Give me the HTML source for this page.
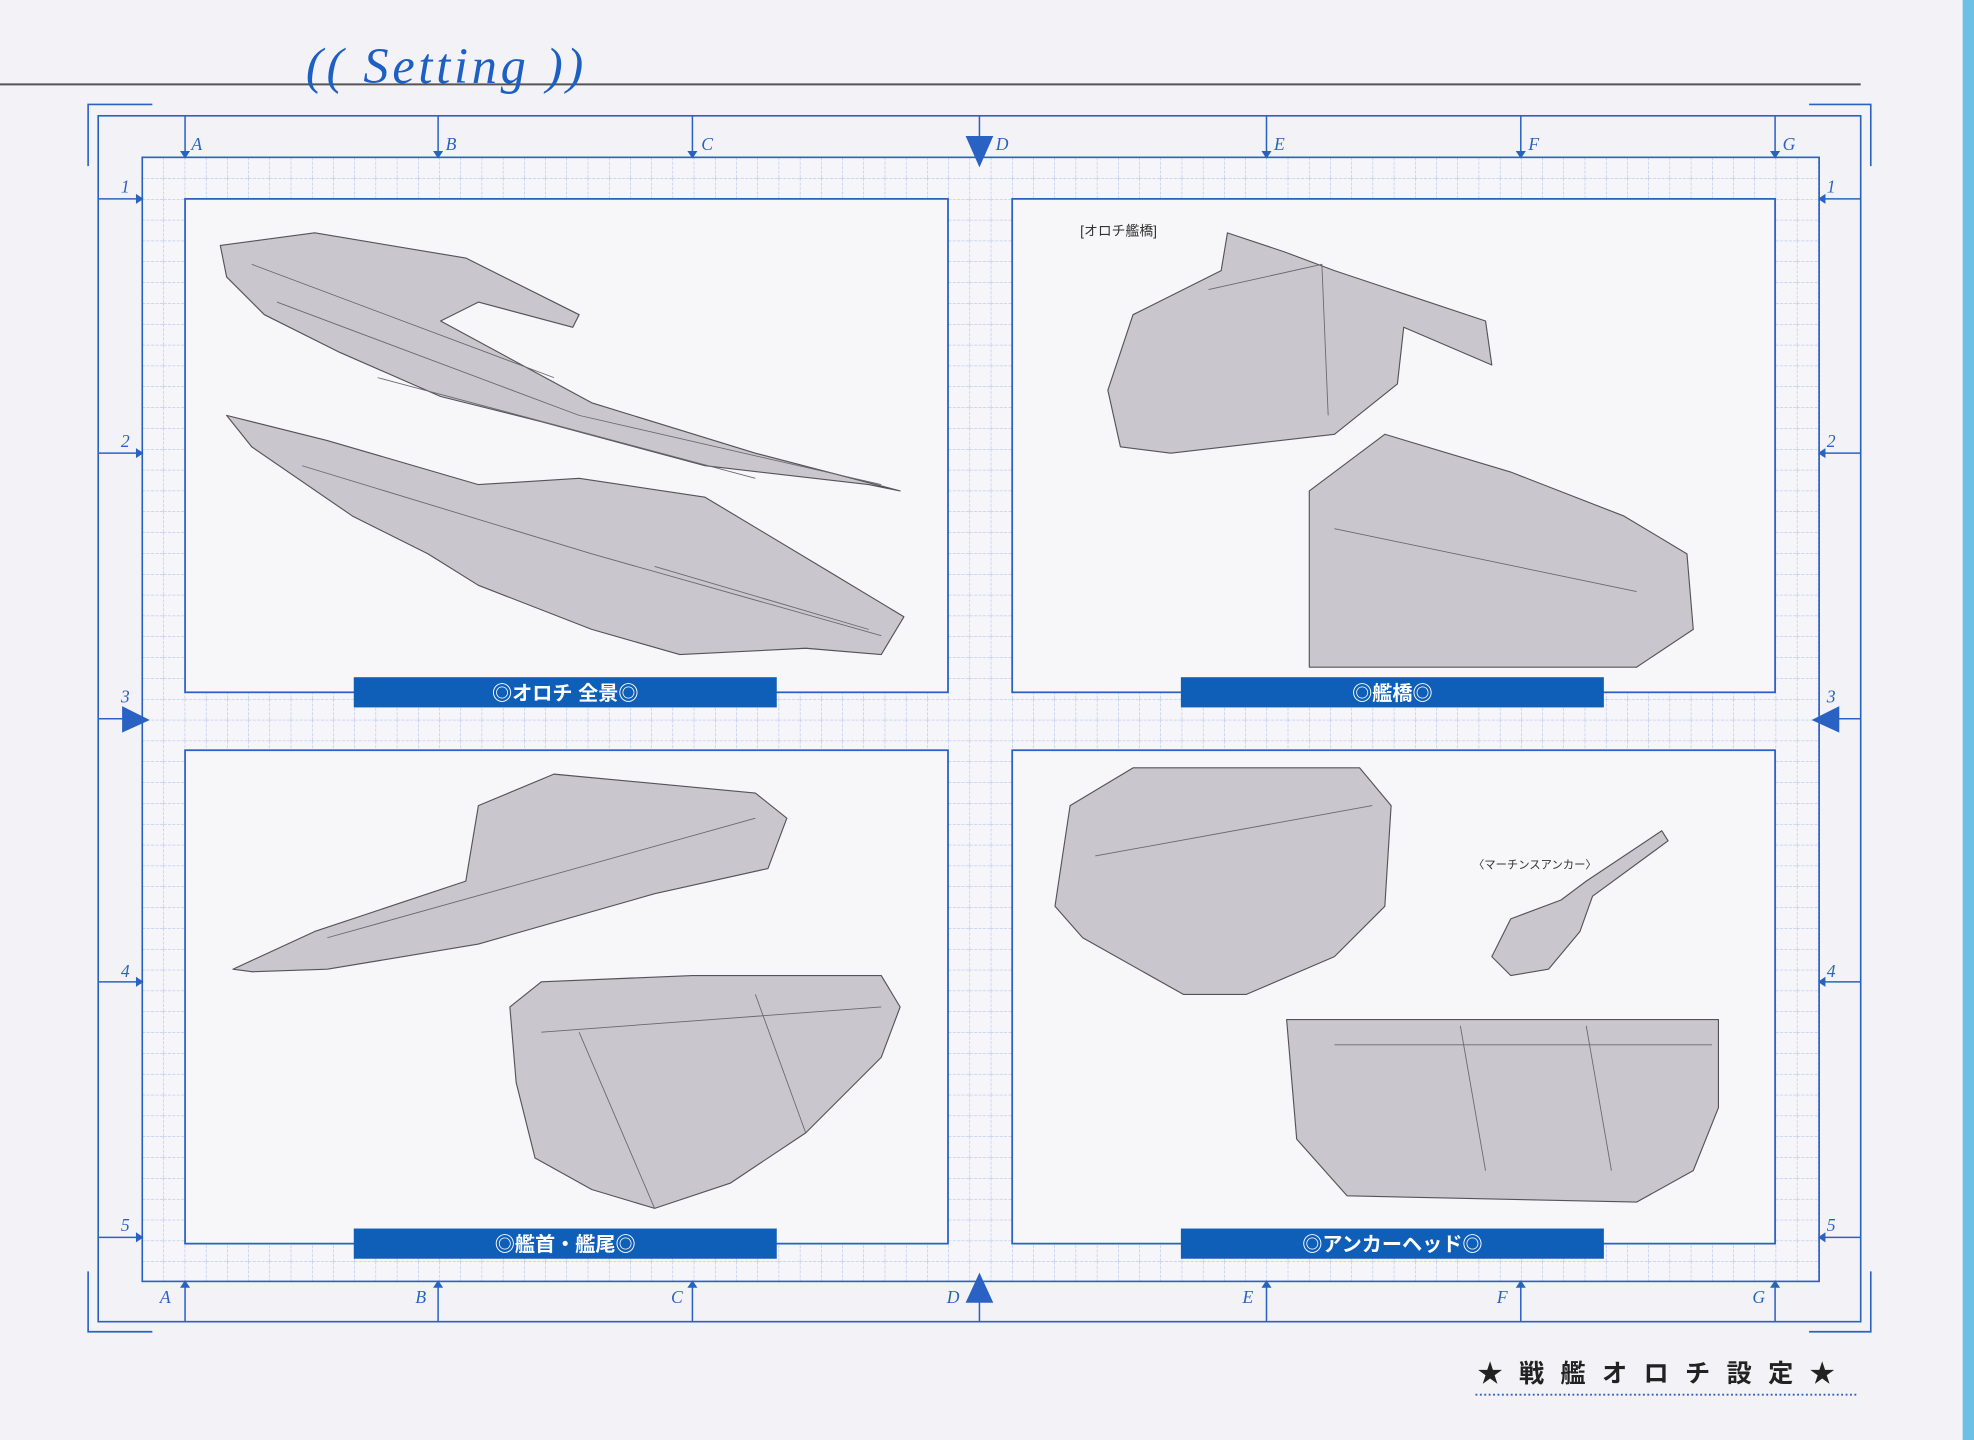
<!DOCTYPE html>
<html><head><meta charset="utf-8"><style>
html,body{margin:0;padding:0;background:#f3f3f7;}
svg{display:block}
</style></head><body>
<svg width="1974" height="1440" viewBox="0 0 1568 1144" preserveAspectRatio="none" xmlns="http://www.w3.org/2000/svg">
<defs>
<pattern id="g" x="113" y="125" width="16.85" height="16.55" patternUnits="userSpaceOnUse">
<path d="M0 0V16.55M0 0H16.85" stroke="#a7b5e6" stroke-width="0.8" stroke-dasharray="2.5 1" fill="none"/>
</pattern>
</defs>
<rect width="1568" height="1144" fill="#f3f3f7"/>
<rect x="1559" y="0" width="9" height="1144" fill="#6cc0e6"/>
<line x1="0" y1="67" x2="1478" y2="67" stroke="#555" stroke-width="1.6"/>
<text x="243" y="66" font-family="Liberation Serif, serif" font-style="italic" font-size="40" fill="#1e5fc4" letter-spacing="3">(( Setting ))</text>
<rect x="113" y="125" width="1332" height="893" fill="#f6f6fa"/>
<rect x="113" y="125" width="1332" height="893" fill="url(#g)"/>
<g fill="none" stroke="#2a62c4" stroke-width="1.3">
<rect x="113" y="125" width="1332" height="893"/>
<rect x="78" y="92" width="1400" height="958"/>
<path d="M70 132V83H121 M1437 83H1486V132 M70 1010V1058H121 M1437 1058H1486V1010"/>
</g>
<g stroke="#2a62c4" stroke-width="1.2" fill="#2a62c4">
<path d="M147 92V125 M348 92V125 M550 92V125 M778 92V125 M1006 92V125 M1208 92V125 M1410 92V125"/>
<path d="M147 1018V1050 M348 1018V1050 M550 1018V1050 M778 1018V1050 M1006 1018V1050 M1208 1018V1050 M1410 1018V1050"/>
<path d="M78 158H113 M78 360H113 M78 780H113 M78 983H113 M78 571H113 M1445 158H1478 M1445 360H1478 M1445 780H1478 M1445 983H1478 M1445 571H1478"/>
</g>
<g fill="#2a62c4">
<path d="M143 120h8l-4 6z M344 120h8l-4 6z M546 120h8l-4 6z M1002 120h8l-4 6z M1204 120h8l-4 6z M1406 120h8l-4 6z"/>
<path d="M143 1023h8l-4 -6z M344 1023h8l-4 -6z M546 1023h8l-4 -6z M1002 1023h8l-4 -6z M1204 1023h8l-4 -6z M1406 1023h8l-4 -6z"/>
<path d="M767 108h22l-11 25z M767 1035h22l-11 -24z"/>
<path d="M108 154v8l6 -4z M108 356v8l6 -4z M108 776v8l6 -4z M108 979v8l6 -4z M97 561v21l22 -10z"/>
<path d="M1450 154v8l-6 -4z M1450 356v8l-6 -4z M1450 776v8l-6 -4z M1450 979v8l-6 -4z M1461 561v21l-22 -10z"/>
</g>
<g font-family="Liberation Serif, serif" font-style="italic" font-size="14" fill="#2a62c4">
<text x="152" y="119">A</text><text x="354" y="119">B</text><text x="557" y="119">C</text><text x="791" y="119">D</text><text x="1012" y="119">E</text><text x="1214" y="119">F</text><text x="1416" y="119">G</text>
<text x="127" y="1035">A</text><text x="330" y="1035">B</text><text x="533" y="1035">C</text><text x="752" y="1035">D</text><text x="987" y="1035">E</text><text x="1189" y="1035">F</text><text x="1392" y="1035">G</text>
<text x="96" y="153">1</text><text x="96" y="355">2</text><text x="96" y="558">3</text><text x="96" y="776">4</text><text x="96" y="978">5</text>
<text x="1451" y="153">1</text><text x="1451" y="355">2</text><text x="1451" y="558">3</text><text x="1451" y="776">4</text><text x="1451" y="978">5</text>
</g>
<g fill="#f7f7f9" stroke="#2a62c4" stroke-width="1.4">
<rect x="147" y="158" width="606" height="392"/>
<rect x="804" y="158" width="606" height="392"/>
<rect x="147" y="596" width="606" height="392"/>
<rect x="804" y="596" width="606" height="392"/>
</g>
<g fill="#c9c7cd" stroke="#55535a" stroke-width="0.9" stroke-linejoin="round">
<path d="M175 195L250 185L370 205L460 250L455 260L380 240L350 255L470 320L600 360L715 390L690 385L560 370L430 335L350 315L270 280L210 250L180 220Z"/>
<path d="M180 330L260 350L380 385L460 380L560 395L660 455L718 490L700 520L640 515L540 520L470 500L380 465L340 440L280 410L200 355Z"/>
<path d="M880 310L900 250L970 215L975 185L1020 200L1060 215L1180 255L1185 290L1115 260L1110 305L1060 345L930 360L890 355Z"/>
<path d="M1040 390L1100 345L1200 375L1290 410L1340 440L1345 500L1300 530L1100 530L1040 530Z"/>
<path d="M185 770L250 740L370 700L380 640L440 615L600 630L625 650L610 690L520 710L380 750L260 770L200 772Z"/>
<path d="M405 800L430 780L550 775L700 775L715 800L700 840L640 900L580 940L520 960L470 945L425 920L410 860Z"/>
<path d="M838 720L850 640L900 610L1080 610L1105 640L1100 720L1060 760L990 790L940 790L860 745Z"/>
<path d="M1185 760L1200 730L1240 715L1260 700L1320 660L1325 668L1265 712L1255 740L1230 770L1200 775Z"/>
<path d="M1022 810L1365 810L1365 880L1345 930L1300 955L1070 950L1030 905Z"/>
</g>
<g stroke="#6a6870" stroke-width="0.7" fill="none">
<path d="M220 240L460 330L700 385 M240 370L470 440L700 505 M960 230L1050 210L1055 330 M1060 420L1300 470 M260 745L600 650 M430 820L700 800 M870 680L1090 640 M1060 830L1360 830 M1160 815L1180 930 M1260 815L1280 930 M200 210L440 300 M300 300L600 380 M520 450L690 500 M460 820L520 960 M600 790L640 900"/>
</g>
<text x="858" y="187" font-family="Liberation Sans, Noto Sans CJK JP, sans-serif" font-size="11" fill="#333">[オロチ艦橋]</text>
<text x="1170" y="690" font-family="Liberation Sans, Noto Sans CJK JP, sans-serif" font-size="9" fill="#333">〈マーチンスアンカー〉</text>
<g fill="#0f5fb8">
<rect x="281" y="538" width="336" height="24"/><rect x="938" y="538" width="336" height="24"/>
<rect x="281" y="976" width="336" height="24"/><rect x="938" y="976" width="336" height="24"/>
</g>
<g font-family="Liberation Sans, Noto Sans CJK JP, sans-serif" font-weight="bold" font-size="16" fill="#fff" text-anchor="middle">
<text x="449" y="556">◎オロチ 全景◎</text>
<text x="1106" y="556">◎艦橋◎</text>
<text x="449" y="994">◎艦首・艦尾◎</text>
<text x="1106" y="994">◎アンカーヘッド◎</text>
</g>
<text x="1322" y="1098" text-anchor="middle" font-family="Liberation Sans, Noto Sans CJK JP, sans-serif" font-weight="bold" font-size="20" fill="#222" letter-spacing="13">★戦艦オロチ設定★</text>
<line x1="1172" y1="1108" x2="1475" y2="1108" stroke="#2a62c4" stroke-width="1.5" stroke-dasharray="1.5 2"/>
</svg>
</body></html>
